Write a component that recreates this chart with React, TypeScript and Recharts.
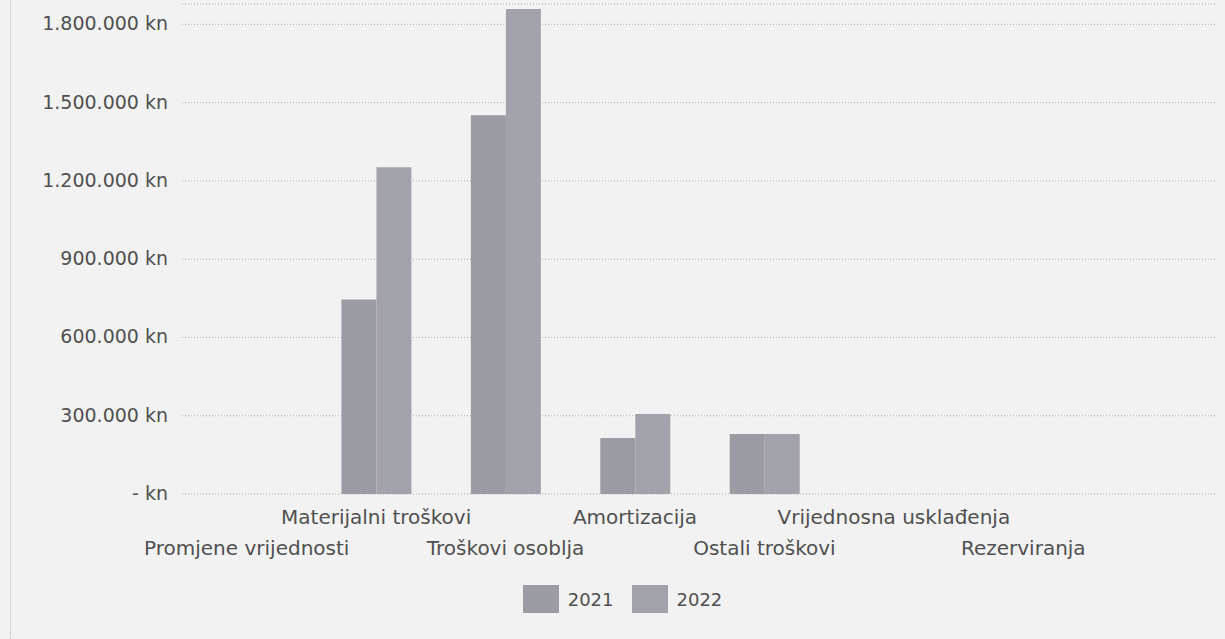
import { BarChart, Bar, XAxis, YAxis, CartesianGrid, Legend } from "recharts";

const categories = [
  "Promjene vrijednosti",
  "Materijalni troškovi",
  "Troškovi osoblja",
  "Amortizacija",
  "Ostali troškovi",
  "Vrijednosna usklađenja",
  "Rezerviranja",
];
const values2021 = [0, 745000, 1452000, 215000, 230000, 0, 0];
const values2022 = [0, 1252000, 1859000, 307000, 230000, 0, 0];
const yTicks = [0, 300000, 600000, 900000, 1200000, 1500000, 1800000];

const data = categories.map((name, i) => ({ name, y2021: values2021[i], y2022: values2022[i] }));

const textColor = "#505050";
const bar2021 = "#9a9ba3";
const bar2022 = "#a2a3aa";

const formatKn = (v: number) =>
  v === 0 ? "- kn" : String(v).replace(/\B(?=(\d{3})+(?!\d))/g, ".") + " kn";

const YTick = (props: any) => {
  const { x, y, payload } = props;
  return (
    <text x={x - 6} y={y} dy={6} textAnchor="end" fill={textColor} fontSize={19} fontFamily="DejaVu Sans">
      {formatKn(payload.value)}
    </text>
  );
};

const XTick = (props: any) => {
  const { x, payload, index } = props;
  const rowY = index % 2 === 1 ? 524 : 555;
  return (
    <text x={x} y={rowY} textAnchor="middle" fill={textColor} fontSize={20} fontFamily="DejaVu Sans">
      {payload.value}
    </text>
  );
};

const LegendContent = () => (
  <div style={{ boxSizing: "border-box", height: 56, display: "flex", justifyContent: "center", alignItems: "flex-start", paddingTop: 2, paddingLeft: 28, fontFamily: "DejaVu Sans", fontSize: 18, color: textColor }}>
    {[["2021", bar2021], ["2022", bar2022]].map(([label, color]) => (
      <div key={label} style={{ display: "flex", alignItems: "center", margin: "0 9px" }}>
        <span style={{ display: "inline-block", width: 36, height: 28, background: color, marginRight: 9 }} />
        <span>{label}</span>
      </div>
    ))}
  </div>
);

export default function App() {
  return (
    <div style={{ position: "absolute", left: 0, top: 0, width: 1225, height: 639, background: "#f2f2f2", overflow: "hidden" }}>
      <div style={{ position: "absolute", left: 10, top: 0, height: 639, borderLeft: "1px dotted #b8b8b8" }} />
      <BarChart
        width={1225}
        height={639}
        data={data}
        margin={{ top: 4, right: 8, bottom: 0, left: 0 }}
        barGap={0}
        barSize={35}
      >
        <CartesianGrid horizontal vertical={false} stroke="#a8a8a8" strokeDasharray="1 2" />
        <XAxis
          dataKey="name"
          axisLine={false}
          tickLine={false}
          interval={0}
          height={89}
          padding={{ left: 0, right: 129 }}
          tick={<XTick />}
        />
        <YAxis
          width={182}
          domain={[0, 1878000]}
          ticks={yTicks}
          allowDataOverflow
          axisLine={false}
          tickLine={false}
          tick={<YTick />}
        />
        <Legend verticalAlign="bottom" content={<LegendContent />} />
        <Bar dataKey="y2021" name="2021" fill={bar2021} isAnimationActive={false} />
        <Bar dataKey="y2022" name="2022" fill={bar2022} isAnimationActive={false} />
      </BarChart>
    </div>
  );
}
